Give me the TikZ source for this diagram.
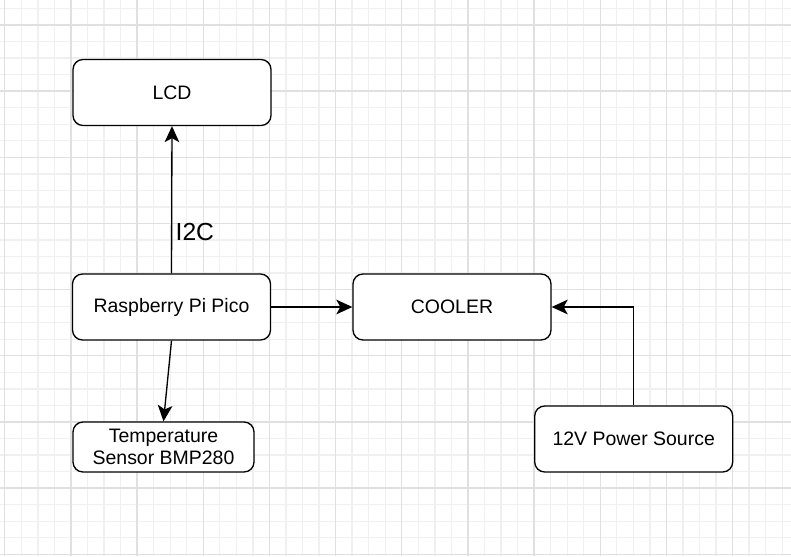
\documentclass[tikz,border=0pt]{standalone}
\usepackage{fontspec}
\setsansfont{Liberation Sans}
\usetikzlibrary{arrows.meta}
\definecolor{gridminor}{RGB}{240,240,240}
\definecolor{gridmajor}{RGB}{224,224,224}
\tikzset{
  box/.style={draw,fill=white,rounded corners=7.5pt,line width=1pt,minimum width=148.5pt,minimum height=49.5pt,inner sep=2pt,align=center},
  arr/.style={line width=1pt,-{Stealth[length=12pt,width=11pt,inset=3pt]}}
}
\begin{document}
\begin{tikzpicture}[x=0.75pt,y=-0.75pt,font=\sffamily\fontsize{14.6}{16.8}\selectfont]
	\useasboundingbox (0,0) rectangle (791,556);
	\fill[white] (0,0) rectangle (791,556);

	%grid
	\foreach \i in {0,...,48} \draw[gridminor,line width=1pt] ({-11.74+16.54*\i},0) -- ++(0,556);
	\foreach \i in {0,...,34} \draw[gridminor,line width=1pt] (0,{-8.08+16.54*\i}) -- ++(791,0);
	\foreach \i in {0,...,11} \draw[gridmajor,line width=1pt] ({4.8+66.16*\i},0) -- ++(0,556);
	\foreach \i in {0,...,8} \draw[gridmajor,line width=1pt] (0,{25+66.16*\i}) -- ++(791,0);

	%blocks
	\node[box] (lcd) at (172,92.5) {LCD};
	\node[box] (pico) at (171.5,307) {Raspberry Pi Pico};
	\node[box,minimum width=135.75pt,minimum height=37.5pt] (sensor) at (163.5,447) {Temperature\\Sensor BMP280};
	\node[box] (cooler) at (452,307) {COOLER};
	\node[box] (power) at (633.7,439) {12V Power Source};

	%arrows
	\draw[arr] (pico.north) -- node[pos=0.28,right,inner sep=2.5pt,font=\sffamily\fontsize{18.5}{20}\selectfont] (i2c) {I2C} (lcd.south);
	\draw[arr] (pico.south) -- (sensor.north);
	\draw[arr] (pico.east) -- (cooler.west);
	\draw[arr] (power.north) |- (cooler.east); %supply

\end{tikzpicture}
\end{document}
